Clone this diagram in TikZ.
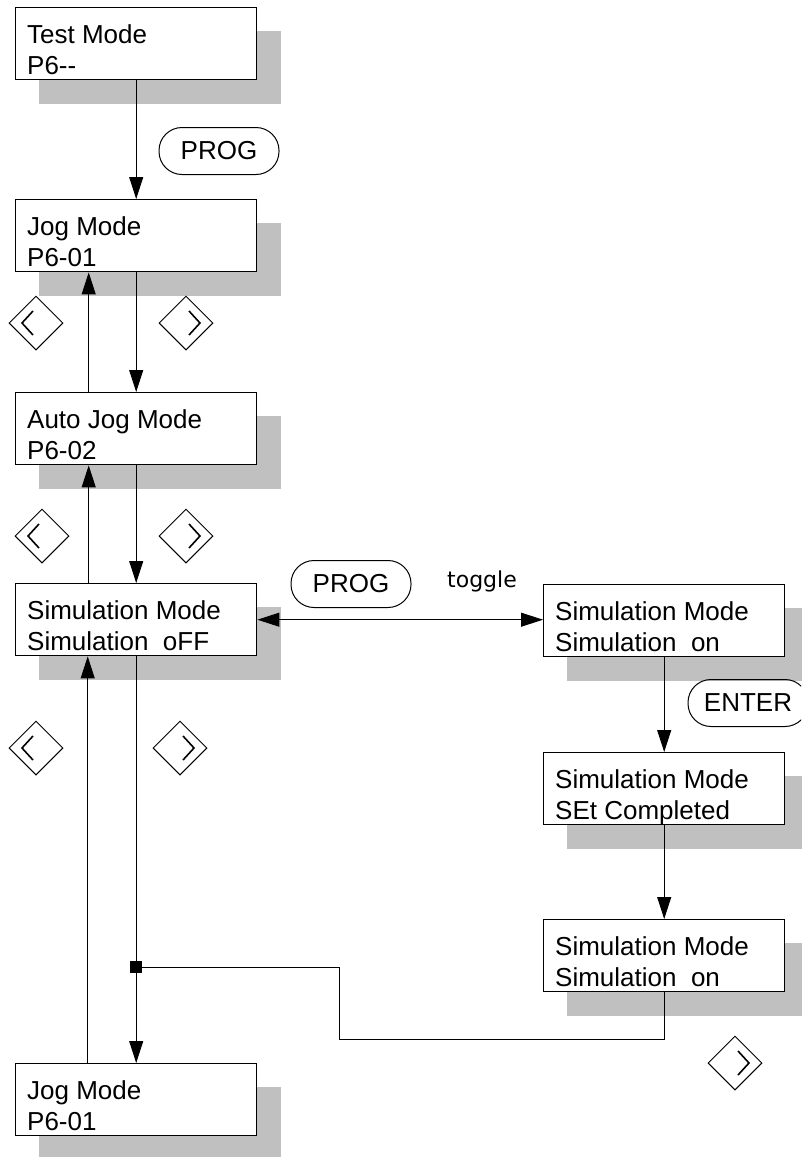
\documentclass[tikz,border=0pt]{standalone}
\usepackage{fontspec}
\setmainfont{Liberation Sans}
\newfontfamily\togglefont{DejaVu Sans}
\usetikzlibrary{arrows.meta,calc,shapes.geometric,backgrounds}
\definecolor{shadowgray}{HTML}{C0C0C0}
\tikzset{
  modebox/.style={draw, line width=1.4pt, fill=white, rectangle, anchor=north west,
    minimum width=241pt, minimum height=72pt, inner sep=0pt},
  boxtxt/.style={anchor=base west, inner sep=0pt, font=\fontsize{26}{30}\selectfont},
  conn/.style={line width=0.9pt},
  arr/.style={conn, -{Triangle[length=22pt,width=14pt]}},
  darr/.style={conn, {Triangle[length=22pt,width=14pt]}-{Triangle[length=22pt,width=14pt]}},
  pill/.style={draw, line width=1pt, rectangle, rounded corners=23pt, minimum width=120pt,
    minimum height=47pt, inner sep=0pt, font=\fontsize{26}{30}\selectfont},
  keyd/.style={draw, line width=1pt, diamond, minimum width=54pt, minimum height=54pt, inner sep=0pt},
  chev/.style={line width=1.6pt},
  lkey/.style={keyd, path picture={\draw[chev] ($(path picture bounding box.center)+(-3,-12)$) -- ++(-11,12) -- ++(11,12);}},
  rkey/.style={keyd, path picture={\draw[chev] ($(path picture bounding box.center)+(3,-12)$) -- ++(11,12) -- ++(-11,12);}},
  junction/.style={fill=black, rectangle, minimum size=12pt, inner sep=0pt},
}
\newcommand\modebox[5]{%
  \node[modebox] (#1) at (#2,#3) {};
  \node[boxtxt] (#1a) at ($(#1.north west)+(12,36)$) {#4};
  \node[boxtxt] (#1b) at ($(#1.north west)+(12,67)$) {#5};
  \begin{scope}[on background layer]
    \fill[shadowgray] ($(#1.north west)+(24,24)$) rectangle ($(#1.south east)+(24,24)$);
  \end{scope}
}
\begin{document}
\begin{tikzpicture}[x=1pt,y=-1pt]
\useasboundingbox (0,0) rectangle (801,1157);
\clip (0,0) rectangle (801,1157);

\modebox{b1}{15}{7}{Test Mode}{P6-{}-}
\modebox{b2}{15}{199}{Jog Mode}{P6-01}
\modebox{b3}{15}{392}{Auto Jog Mode}{P6-02}
\modebox{b4}{15}{583}{Simulation Mode}{Simulation\ \ oFF}
\modebox{b5}{543}{584}{Simulation Mode}{Simulation\ \ on}
\modebox{b6}{543}{752}{Simulation Mode}{SEt Completed}
\modebox{b7}{543}{919}{Simulation Mode}{Simulation\ \ on}
\modebox{b8}{15}{1063}{Jog Mode}{P6-01}

% keys
\node[pill] (p1) at (219,151) {PROG};
\node[pill] (p2) at (351,584) {PROG};
\node[pill] (p3) at (748,703) {ENTER};
\node[inner sep=0pt, font=\togglefont\fontsize{22}{26}\selectfont] (tg) at (482,581) {toggle};

\node[lkey] (d1) at (36,323) {};
\node[rkey] (d2) at (186,323) {};
\node[lkey] (d3) at (42,536) {};
\node[rkey] (d4) at (186,536) {};
\node[lkey] (d5) at (36,748) {};
\node[rkey] (d6) at (180,748) {};
\node[rkey] (d7) at (735,1063) {};

% connectors
\draw[arr] (b1.south) -- (b2.north);
\draw[arr] (b2.south) -- (b3.north);
\draw[arr] ([xshift=-47.5pt]b3.north) -- ([xshift=-47.5pt]b2.south);
\draw[arr] (b3.south) -- (b4.north);
\draw[arr] ([xshift=-47.5pt]b4.north) -- ([xshift=-47.5pt]b3.south);
\draw[darr] (b4.east) -- (b4.east -| b5.west);
\draw[arr] (b5.south) -- (b6.north);
\draw[arr] (b6.south) -- (b7.north);
\draw[arr] (b4.south) -- (b8.north);
\draw[arr] ([xshift=-48.5pt]b8.north) -- ([xshift=-48.5pt]b4.south);
\node[junction] (j) at (b4.south |- 0,967) {};
\coordinate (c1) at (339,1039);
\draw[conn] (b7.south) |- (c1) |- (j);
\end{tikzpicture}
\end{document}
